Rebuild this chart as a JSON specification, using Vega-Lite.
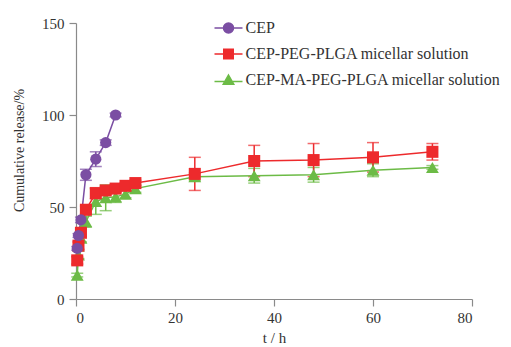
{
  "$schema": "https://vega.github.io/schema/vega-lite/v6.json",
  "width": 396,
  "height": 276,
  "autosize": {"type": "none"},
  "padding": {"left": 76, "top": 23, "right": 39, "bottom": 48},
  "background": "#ffffff",
  "config": {
    "font": "Liberation Serif",
    "view": {"stroke": null},
    "axis": {
      "grid": false,
      "domainColor": "#8a8a8a",
      "tickColor": "#8a8a8a",
      "tickSize": 7,
      "domainWidth": 1.2,
      "tickWidth": 1.2,
      "labelFont": "Liberation Serif",
      "labelFontSize": 15,
      "labelColor": "#333333",
      "titleFont": "Liberation Serif",
      "titleFontSize": 15,
      "titleFontWeight": "normal",
      "titleColor": "#333333"
    },
    "legend": {
      "labelFont": "Liberation Serif",
      "labelFontSize": 16,
      "labelColor": "#333333",
      "labelLimit": 400
    }
  },
  "data": {
    "values": [
      {"series": "CEP-MA-PEG-PLGA micellar solution", "t": 0.25, "v": 13, "err": 1},
      {"series": "CEP-MA-PEG-PLGA micellar solution", "t": 0.5, "v": 24, "err": 2},
      {"series": "CEP-MA-PEG-PLGA micellar solution", "t": 1, "v": 33, "err": 2},
      {"series": "CEP-MA-PEG-PLGA micellar solution", "t": 2, "v": 42, "err": 3},
      {"series": "CEP-MA-PEG-PLGA micellar solution", "t": 4, "v": 53, "err": 7},
      {"series": "CEP-MA-PEG-PLGA micellar solution", "t": 6, "v": 55, "err": 7},
      {"series": "CEP-MA-PEG-PLGA micellar solution", "t": 8, "v": 55.5, "err": 3},
      {"series": "CEP-MA-PEG-PLGA micellar solution", "t": 10, "v": 57, "err": 2},
      {"series": "CEP-MA-PEG-PLGA micellar solution", "t": 12, "v": 60, "err": 2},
      {"series": "CEP-MA-PEG-PLGA micellar solution", "t": 24, "v": 66.5, "err": 2},
      {"series": "CEP-MA-PEG-PLGA micellar solution", "t": 36, "v": 67, "err": 4},
      {"series": "CEP-MA-PEG-PLGA micellar solution", "t": 48, "v": 67.5, "err": 4},
      {"series": "CEP-MA-PEG-PLGA micellar solution", "t": 60, "v": 70, "err": 3.5},
      {"series": "CEP-MA-PEG-PLGA micellar solution", "t": 72, "v": 71.5, "err": 1},
      {"series": "CEP-PEG-PLGA micellar solution", "t": 0.25, "v": 21, "err": 2},
      {"series": "CEP-PEG-PLGA micellar solution", "t": 0.5, "v": 29, "err": 2},
      {"series": "CEP-PEG-PLGA micellar solution", "t": 1, "v": 36, "err": 2},
      {"series": "CEP-PEG-PLGA micellar solution", "t": 2, "v": 48.5, "err": 2},
      {"series": "CEP-PEG-PLGA micellar solution", "t": 4, "v": 57.5, "err": 3},
      {"series": "CEP-PEG-PLGA micellar solution", "t": 6, "v": 59, "err": 2},
      {"series": "CEP-PEG-PLGA micellar solution", "t": 8, "v": 60, "err": 2},
      {"series": "CEP-PEG-PLGA micellar solution", "t": 10, "v": 61.5, "err": 1.5},
      {"series": "CEP-PEG-PLGA micellar solution", "t": 12, "v": 63, "err": 1.5},
      {"series": "CEP-PEG-PLGA micellar solution", "t": 24, "v": 68, "err": 9},
      {"series": "CEP-PEG-PLGA micellar solution", "t": 36, "v": 75, "err": 8.5},
      {"series": "CEP-PEG-PLGA micellar solution", "t": 48, "v": 75.5, "err": 9},
      {"series": "CEP-PEG-PLGA micellar solution", "t": 60, "v": 77, "err": 8},
      {"series": "CEP-PEG-PLGA micellar solution", "t": 72, "v": 80, "err": 4.5},
      {"series": "CEP", "t": 0.25, "v": 27.5, "err": 1},
      {"series": "CEP", "t": 0.5, "v": 34.5, "err": 1},
      {"series": "CEP", "t": 1, "v": 43, "err": 1.5},
      {"series": "CEP", "t": 2, "v": 67.5, "err": 3},
      {"series": "CEP", "t": 4, "v": 76, "err": 4},
      {"series": "CEP", "t": 6, "v": 85, "err": 1.5},
      {"series": "CEP", "t": 8, "v": 100, "err": 1}
    ]
  },
  "resolve": {"scale": {"shape": "independent", "fill": "independent", "stroke": "independent"}},
  "layer": [
    {
      "mark": {"type": "errorbar", "ticks": {"size": 12, "thickness": 1.5}, "rule": {"strokeWidth": 1.5}},
      "encoding": {
        "x": {"field": "t", "type": "quantitative", "title": "t / h"},
        "y": {"field": "v", "type": "quantitative", "title": "Cumulative release/%"},
        "yError": {"field": "err"},
        "color": {"field": "series", "type": "nominal", "legend": null,
          "scale": {"domain": ["CEP", "CEP-PEG-PLGA micellar solution", "CEP-MA-PEG-PLGA micellar solution"], "range": ["#7b4ea3", "#ed2a2c", "#6cbb46"]}}
      }
    },
    {
      "mark": {"type": "line", "strokeWidth": 1.5},
      "encoding": {
        "x": {"field": "t", "type": "quantitative", "scale": {"domain": [0, 80], "nice": false},
          "axis": {"values": [0, 20, 40, 60, 80], "title": "t / h", "titlePadding": 5, "labelPadding": 4}},
        "y": {"field": "v", "type": "quantitative", "scale": {"domain": [0, 150], "nice": false},
          "axis": {"values": [0, 50, 100, 150], "title": "Cumulative release/%", "titleFontSize": 14, "titlePadding": 15, "labelPadding": 5, "titleY": 127}},
        "color": {"field": "series", "type": "nominal", "legend": null,
          "scale": {"domain": ["CEP", "CEP-PEG-PLGA micellar solution", "CEP-MA-PEG-PLGA micellar solution"], "range": ["#7b4ea3", "#ed2a2c", "#6cbb46"]}},
        "detail": {"field": "series"}
      }
    },
    {
      "mark": {"type": "point", "filled": true, "opacity": 1},
      "encoding": {
        "x": {"field": "t", "type": "quantitative"},
        "y": {"field": "v", "type": "quantitative"},
        "color": {"field": "series", "type": "nominal", "legend": null,
          "scale": {"domain": ["CEP", "CEP-PEG-PLGA micellar solution", "CEP-MA-PEG-PLGA micellar solution"], "range": ["#7b4ea3", "#ed2a2c", "#6cbb46"]}},
        "shape": {"field": "series", "type": "nominal", "legend": null,
          "scale": {"domain": ["CEP", "CEP-PEG-PLGA micellar solution", "CEP-MA-PEG-PLGA micellar solution"], "range": ["circle", "square", "triangle-up"]}},
        "size": {"field": "series", "type": "nominal", "legend": null,
          "scale": {"domain": ["CEP", "CEP-PEG-PLGA micellar solution", "CEP-MA-PEG-PLGA micellar solution"], "range": [125, 165, 150]}}
      }
    },
    {
      "transform": [{"filter": "datum.t < 0"}],
      "mark": {"type": "point", "filled": true, "opacity": 1, "size": 100, "strokeWidth": 1.5},
      "encoding": {
        "fill": {"field": "series", "type": "nominal",
          "scale": {"domain": ["CEP", "CEP-PEG-PLGA micellar solution", "CEP-MA-PEG-PLGA micellar solution"], "range": ["#7b4ea3", "#ed2a2c", "#6cbb46"]},
          "legend": {"title": null, "orient": "none", "legendX": 144.5, "legendY": -3, "padding": 0, "rowPadding": 10, "labelOffset": 9, "symbolSize": 100, "symbolStrokeWidth": 1.5, "labelBaseline": "middle"}},
        "stroke": {"field": "series", "type": "nominal",
          "scale": {"domain": ["CEP", "CEP-PEG-PLGA micellar solution", "CEP-MA-PEG-PLGA micellar solution"], "range": ["#7b4ea3", "#ed2a2c", "#6cbb46"]},
          "legend": {"title": null, "orient": "none", "legendX": 144.5, "legendY": -3, "padding": 0, "rowPadding": 10, "labelOffset": 9, "symbolSize": 100, "symbolStrokeWidth": 1.5, "labelBaseline": "middle"}},
        "shape": {"field": "series", "type": "nominal",
          "scale": {"domain": ["CEP", "CEP-PEG-PLGA micellar solution", "CEP-MA-PEG-PLGA micellar solution"],
            "range": ["M-2.8,0H2.8M1,0A1,1 0 1,1 -1,0A1,1 0 1,1 1,0Z", "M-2.8,0H2.8M-0.95,-0.95H0.95V0.95H-0.95Z", "M-2.8,0.3H2.8M0,-1L1.05,0.85L-1.05,0.85Z"]},
          "legend": {"title": null, "orient": "none", "legendX": 144.5, "legendY": -3, "padding": 0, "rowPadding": 10, "labelOffset": 9, "symbolSize": 100, "symbolStrokeWidth": 1.5, "labelBaseline": "middle"}}
      }
    }
  ]
}
